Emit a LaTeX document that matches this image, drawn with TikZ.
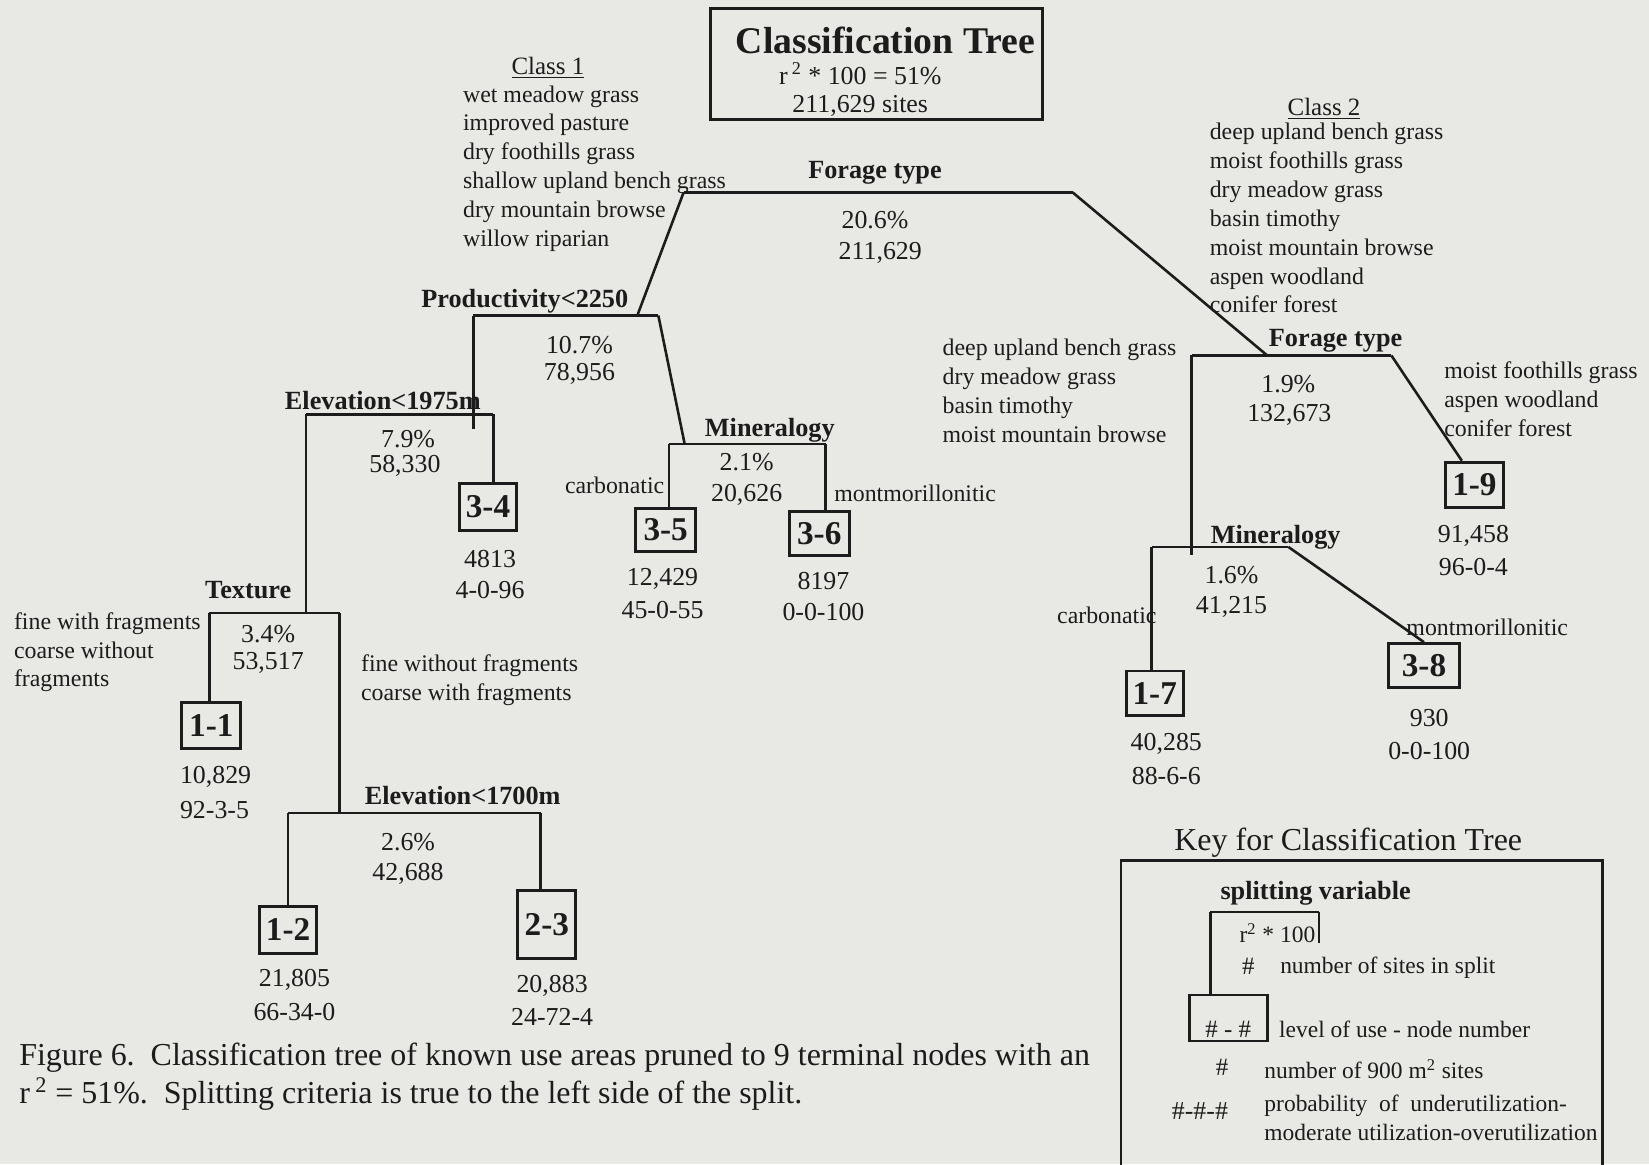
\documentclass[tikz,border=0pt]{standalone}
\usepackage{fontspec}
\setmainfont{Liberation Serif}
\definecolor{paper}{RGB}{232,232,229}
\definecolor{ink}{RGB}{28,28,28}
\tikzset{
  branch/.style={line width=1.4pt, draw=ink},
  splitvar/.style={font=\fontsize{14.2}{17}\selectfont\bfseries, inner sep=1pt, text=ink, yshift=-1.4pt},
  stat/.style={font=\fontsize{14}{17}\selectfont, inner sep=0pt, text=ink, yshift=-1.2pt},
  leaf/.style={draw=ink, line width=1.6pt, inner sep=0pt, minimum width=1.1cm, minimum height=0.9cm,
    font=\fontsize{18}{20}\selectfont\bfseries, text=ink},
  classlist/.style={font=\fontsize{12.9}{15.6}\selectfont, align=left, inner sep=0pt, anchor=north west, text=ink},
  side/.style={font=\fontsize{12.9}{15.6}\selectfont, inner sep=0pt, text=ink, yshift=-1pt},
  keytext/.style={font=\fontsize{12.7}{15.5}\selectfont, inner sep=0pt, text=ink},
}
\begin{document}
\begin{tikzpicture}[x=0.02cm,y=-0.02cm]
\fill[paper] (0,0) rectangle (1568,1107);
\useasboundingbox (0,0) rectangle (1568,1107);

% title
\node[draw=ink, line width=1.6pt, minimum width=6.3cm, minimum height=2.12cm] (titlebox) at (833.5,61) {};
\node[font=\fontsize{20.4}{24}\selectfont\bfseries, text=ink] (title) at (842,38) {Classification Tree};
\node[stat] (rsq) at (818,68) {r\,\textsuperscript{2} * 100 = 51\%};
\node[stat] (nsites) at (818,99) {211,629 sites};

% class lists
\node[side, font=\fontsize{13.5}{16}\selectfont] (classA) at (521,63) {\underline{Class 1}};
\node[classlist] (listA) at (440,81) {wet meadow grass\\improved pasture\\dry foothills grass\\shallow upland bench grass\\dry mountain browse\\willow riparian};
\node[side, font=\fontsize{13.5}{16}\selectfont] (classB) at (1259,102) {\underline{Class 2}};
\node[classlist] (listB) at (1150,117) {deep upland bench grass\\moist foothills grass\\dry meadow grass\\basin timothy\\moist mountain browse\\aspen woodland\\conifer forest};

% split points
\coordinate (ftL) at (650,183);  \coordinate (ftR) at (1020,183);
\coordinate (pL) at (450,300);   \coordinate (pR) at (626,300);   \coordinate (pTop) at (606,300);
\coordinate (pEnd) at (450,408);
\coordinate (eL) at (291,394);   \coordinate (eR) at (469,394);
\coordinate (mAL) at (636,422);  \coordinate (mAR) at (785,422);  \coordinate (mATop) at (651,422);
\coordinate (tL) at (199,583);   \coordinate (tR) at (323,583);   \coordinate (tTop) at (291,583);
\coordinate (fL) at (274,773);   \coordinate (fR) at (514,773);   \coordinate (fTop) at (323,773);
\coordinate (gL) at (1133,338);  \coordinate (gR) at (1323,338);  \coordinate (gTop) at (1205,338);
\coordinate (gEnd) at (1133,528);
\coordinate (mBL) at (1095,520); \coordinate (mBR) at (1225,520);

% terminal nodes
\node[leaf] (n34) at (464,482) {3-4};
\node[leaf, minimum width=1.14cm, minimum height=0.82cm] (n35) at (633,504) {3-5};
\node[leaf, minimum width=1.14cm, minimum height=0.84cm] (n36) at (779,507) {3-6};
\node[leaf, minimum width=1.12cm, minimum height=0.88cm] (n11) at (201,690) {1-1};
\node[leaf, minimum width=1.08cm] (n12) at (274,884) {1-2};
\node[leaf, minimum height=1.28cm] (n23) at (520,879) {2-3};
\node[leaf, minimum height=0.86cm] (n19) at (1402,461) {1-9};
\node[leaf, minimum width=1.08cm, minimum height=0.84cm] (n17) at (1098,659) {1-7};
\node[leaf, minimum width=1.34cm, minimum height=0.84cm] (n38) at (1354,633) {3-8};

% branches
\draw[branch] (ftL) -- (ftR);
\draw[branch] (ftL) -- (pTop);
\draw[branch] (ftR) -- (gTop);
\draw[branch] (pL) -- (pR);
\draw[branch] (pL) -- (pEnd);
\draw[branch] (pR) -- (mATop);
\draw[branch] (eL) -- (eR);
\draw[branch] (eL) -- (tTop);
\draw[branch] (eR) -- (eR |- n34.north);
\draw[branch] (mAL) -- (mAR);
\draw[branch] (mAL) -- (mAL |- n35.north);
\draw[branch] (mAR) -- (mAR |- n36.north);
\draw[branch] (tL) -- (tR);
\draw[branch] (tL) -- (tL |- n11.north);
\draw[branch] (tR) -- (fTop);
\draw[branch] (fL) -- (fR);
\draw[branch] (fL) -- (fL |- n12.north);
\draw[branch] (fR) -- (fR |- n23.north);
\draw[branch] (gL) -- (gR);
\draw[branch] (gL) -- (gEnd);
\draw[branch] (gR) -- ([xshift=-0.24cm]n19.north);
\draw[branch] (mBL) -- (mBR);
\draw[branch] (mBL) -- (mBL |- n17.north);
\draw[branch] (mBR) -- (n38.north);

% splitting variables
\node[splitvar] (svRoot) at (832,162) {Forage type};
\node[splitvar] (svProd) at (499,284) {Productivity<2250};
\node[splitvar] (svElevA) at (364,378) {Elevation<1975m};
\node[splitvar] (svMinA) at (732,407) {Mineralogy};
\node[splitvar] (svTex) at (236,559) {Texture};
\node[splitvar] (svElevB) at (440,754) {Elevation<1700m};
\node[splitvar] (svForB) at (1270,322) {Forage type};
\node[splitvar] (svMinB) at (1213,508) {Mineralogy};

% r^2 and sites per split
\node[stat] (rRoot) at (832,207) {20.6\%};   \node[stat] (sRoot) at (837,238) {211,629};
\node[stat] (rProd) at (551,326) {10.7\%};   \node[stat] (sProd) at (551,353) {78,956};
\node[stat] (rElevA) at (388,415) {7.9\%};   \node[stat] (sElevA) at (385,441) {58,330};
\node[stat] (rMinA) at (710,437) {2.1\%};    \node[stat] (sMinA) at (710,468) {20,626};
\node[stat] (rTex) at (255,601) {3.4\%};     \node[stat] (sTex) at (255,628) {53,517};
\node[stat] (rElevB) at (388,799) {2.6\%};   \node[stat] (sElevB) at (388,829) {42,688};
\node[stat] (rForB) at (1225,363) {1.9\%};   \node[stat] (sForB) at (1226,392) {132,673};
\node[stat] (rMinB) at (1171,545) {1.6\%};   \node[stat] (sMinB) at (1171,575) {41,215};

% terminal counts and probabilities
\node[stat] (c34) at (466,529) {4813};    \node[stat] (p34) at (466,559) {4-0-96};
\node[stat] (c35) at (630,548) {12,429};  \node[stat] (p35) at (630,578) {45-0-55};
\node[stat] (c36) at (783,550) {8197};    \node[stat] (p36) at (783,580) {0-0-100};
\node[stat] (c11) at (205,737) {10,829};  \node[stat] (p11) at (204,768) {92-3-5};
\node[stat] (c12) at (280,930) {21,805};  \node[stat] (p12) at (280,960) {66-34-0};
\node[stat] (c23) at (525,935) {20,883};  \node[stat] (p23) at (525,965) {24-72-4};
\node[stat] (c19) at (1401,507) {91,458}; \node[stat] (p19) at (1401,537) {96-0-4};
\node[stat] (c17) at (1109,705) {40,285}; \node[stat] (p17) at (1109,736) {88-6-6};
\node[stat] (c38) at (1359,681) {930};    \node[stat] (p38) at (1359,712) {0-0-100};

% branch labels
\node[side, anchor=east] (carbA) at (632,460) {carbonatic};
\node[side, anchor=west] (montA) at (793,467) {montmorillonitic};
\node[classlist] (texL) at (13,582) {fine with fragments\\coarse without\\fragments};
\node[classlist] (texR) at (343,622) {fine without fragments\\coarse with fragments};
\node[classlist] (forL) at (896,322) {deep upland bench grass\\dry meadow grass\\basin timothy\\moist mountain browse};
\node[classlist] (forR) at (1373,344) {moist foothills grass\\aspen woodland\\conifer forest};
\node[side, anchor=east] (carbB) at (1100,583) {carbonatic};
\node[side, anchor=west] (montB) at (1337,595) {montmorillonitic};

% caption
\node[font=\fontsize{17.3}{21}\selectfont, align=left, inner sep=0pt, anchor=north west, text=ink] (caption) at (18,991)
  {Figure 6.\ \ Classification tree of known use areas pruned to 9 terminal nodes with an\\
   r\,\textsuperscript{2} = 51\%.\ \ Splitting criteria is true to the left side of the split.};

% key
\node[font=\fontsize{17.3}{20}\selectfont, text=ink] (keytitle) at (1282,801) {Key for Classification Tree};
\draw[line width=1.4pt, draw=ink] (1066,1110) -- (1066,818) -- (1524,818) -- (1524,1110);
\node[splitvar] (ksplit) at (1251,847) {splitting variable};
\coordinate (kL) at (1151,867); \coordinate (kR) at (1254,867);
\node[draw=ink, line width=1.4pt, minimum width=1.48cm, minimum height=0.88cm, inner sep=0pt] (kleaf) at (1168,968) {};
\draw[branch] (kL) -- (kR);
\draw[branch] (kR) -- ++(0,30);
\draw[branch] (kL) -- (kL |- kleaf.north);
\node[keytext, anchor=east] (kr2) at (1251,887) {r\textsuperscript{2} * 100};
\node[keytext, font=\fontsize{13.5}{16}\selectfont] (khashA) at (1187,919) {\#};
\node[keytext, anchor=west] (ksites) at (1217,920) {number of sites in split};
\node[keytext, font=\fontsize{13.5}{16}\selectfont] (khashB) at (1168,979) {\# - \#};
\node[keytext, anchor=west] (klevel) at (1216,979) {level of use - node number};
\node[keytext, font=\fontsize{13.5}{16}\selectfont] (khashC) at (1162,1015) {\#};
\node[keytext, anchor=west] (kcount) at (1202,1017) {number of 900 m\textsuperscript{2} sites};
\node[keytext, font=\fontsize{14}{16}\selectfont] (khashD) at (1141,1056) {\#-\#-\#};
\node[keytext, align=left, anchor=north west] (kprob) at (1202,1041) {probability\ \ of\ \ underutilization-\\moderate utilization-overutilization};
\end{tikzpicture}
\end{document}
